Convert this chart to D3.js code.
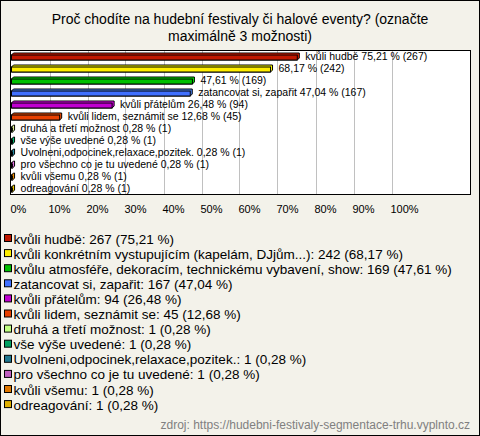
<!DOCTYPE html>
<html>
<head>
<meta charset="utf-8">
<script src="https://cdn.jsdelivr.net/npm/d3@7"></script>
<style>
  body { margin: 0; background: #f3f2ea; }
  svg { display: block; font-family: "Liberation Sans", Arial, sans-serif; }
</style>
</head>
<body>
<svg width="480" height="436"></svg>
<script>
// legend names, bar labels, counts, percentages, colours
var categories = ["kvůli hudbě",
                  "kvůli konkrétním vystupujícím (kapelám, DJjům...)",
                  "kvůlu atmosféře, dekoracím, technickému vybavení, show",
                  "zatancovat si, zapařit",
                  "kvůli přátelům",
                  "kvůli lidem, seznámit se",
                  "druhá a třetí možnost",
                  "vše výše uvedené",
                  "Uvolneni,odpocinek,relaxace,pozitek.",
                  "pro všechno co je tu uvedené",
                  "kvůli všemu",
                  "odreagování"];
var barNames = ["kvůli hudbě", "", "", "zatancovat si, zapařit", "kvůli přátelům",
                "kvůli lidem,  seznámit se", "druhá a třetí možnost", "vše výše uvedené",
                "Uvolneni,odpocinek,relaxace,pozitek.", "pro všechno co je tu uvedené",
                "kvůli všemu", "odreagování"];
var counts = [267, 242, 169, 167, 94, 45, 1, 1, 1, 1, 1, 1];
var percents = [75.21, 68.17, 47.61, 47.04, 26.48, 12.68, 0.28, 0.28, 0.28, 0.28, 0.28, 0.28];
var colors = ["#c01800", "#ffee00", "#00c000", "#4070ff", "#c000d0", "#e84000",
              "#c0ff80", "#00a060", "#207890", "#c060c0", "#e07800", "#e0b000"];
var ticks = [0, 10, 20, 30, 40, 50, 60, 70, 80, 90, 100];

var fmt = function(v) { return d3.format(".2f")(v).replace(".", ","); };

var svg = d3.select("svg");

// outer frame
svg.append("rect")
    .attr("x", 0.5).attr("y", 0.5)
    .attr("width", 479).attr("height", 435)
    .attr("fill", "#f3f2ea")
    .attr("stroke", "#000");

// title
var title = svg.append("text")
    .attr("text-anchor", "middle")
    .attr("font-size", "14px")
    .attr("fill", "#000");
title.append("tspan").attr("x", 240).attr("y", 24)
    .text("Proč chodíte na hudební festivaly či halové eventy? (označte");
title.append("tspan").attr("x", 240).attr("y", 41)
    .text("maximálně 3 možnosti)");

var plot = {left: 10.5, top: 50.5, right: 470.5, bottom: 194.5};

var x = d3.scaleLinear()
    .domain([0, 100])
    .range([11.5, 391.5]);

var y = d3.scaleBand()
    .domain(d3.range(categories.length))
    .range([plot.top, plot.bottom]);

svg.append("rect")
    .attr("x", plot.left).attr("y", plot.top)
    .attr("width", plot.right - plot.left)
    .attr("height", plot.bottom - plot.top)
    .attr("fill", "#fff");

// gridlines
svg.append("g")
  .selectAll("line")
  .data(ticks.slice(1))
  .enter().append("line")
    .attr("x1", function(d) { return Math.round(x(d)) + 0.5; })
    .attr("x2", function(d) { return Math.round(x(d)) + 0.5; })
    .attr("y1", plot.top)
    .attr("y2", plot.bottom)
    .attr("stroke", "#c0c0c0");

svg.append("rect")
    .attr("x", plot.left).attr("y", plot.top)
    .attr("width", plot.right - plot.left)
    .attr("height", plot.bottom - plot.top)
    .attr("fill", "none")
    .attr("stroke", "#000");

// 3d-ish bars
var depth = 2, bh = 5;
var bars = svg.append("g").selectAll("g")
    .data(percents)
    .enter().append("g")
    .attr("transform", function(d, i) {
      return "translate(0," + Math.round(y(i) + y.bandwidth() / 2 - bh / 2 + 1) + ")";
    });

bars.append("path")
    .attr("d", function(d) {
      var x0 = x(0), x1 = x(d);
      return "M" + x0 + ",0L" + (x0 + depth) + "," + (-depth) + "L" + (x1 + depth) + "," + (-depth)
           + "L" + (x1 + depth) + "," + (bh - depth) + "L" + x1 + "," + bh + "L" + x0 + "," + bh + "Z";
    })
    .attr("fill", function(d, i) { return d3.color(colors[i]).brighter(0.6); })
    .attr("stroke", "#000")
    .attr("stroke-width", 1);

bars.append("rect")
    .attr("x", x(0))
    .attr("y", 0)
    .attr("width", function(d) { return x(d) - x(0); })
    .attr("height", bh)
    .attr("fill", function(d, i) { return colors[i]; })
    .attr("stroke", "#000")
    .attr("stroke-width", 1);

bars.append("text")
    .attr("x", function(d) { return x(d) + depth + 6; })
    .attr("y", bh - 0.5)
    .attr("font-size", "10.5px")
    .attr("fill", "#000")
    .text(function(d, i) {
      var s = fmt(d) + " % (" + counts[i] + ")";
      return barNames[i] ? barNames[i] + " " + s : s;
    });

// axis labels
svg.append("g")
  .selectAll("text")
  .data(ticks)
  .enter().append("text")
    .attr("x", function(d) { return x(d) - 1; })
    .attr("y", 213)
    .attr("font-size", "11px")
    .attr("fill", "#000")
    .text(function(d) { return d + "%"; });

// legend
var legend = svg.append("g").selectAll("g")
    .data(categories)
    .enter().append("g")
    .attr("transform", function(d, i) { return "translate(0," + (232 + i * 15.1) + ")"; });

legend.append("rect")
    .attr("x", 4.5).attr("y", 2.5)
    .attr("width", 7).attr("height", 7)
    .attr("fill", function(d, i) { return colors[i]; })
    .attr("stroke", "#000");

legend.append("text")
    .attr("x", 13.5)
    .attr("y", 11.5)
    .attr("font-size", "13.5px")
    .attr("fill", "#000")
    .text(function(d, i) { return d + ": " + counts[i] + " (" + fmt(percents[i]) + " %)"; });

svg.append("text")
    .attr("x", 470)
    .attr("y", 429)
    .attr("text-anchor", "end")
    .attr("font-size", "12px")
    .attr("fill", "#808080")
    .text("zdroj: https://hudebni-festivaly-segmentace-trhu.vyplnto.cz");
</script>
</body>
</html>
